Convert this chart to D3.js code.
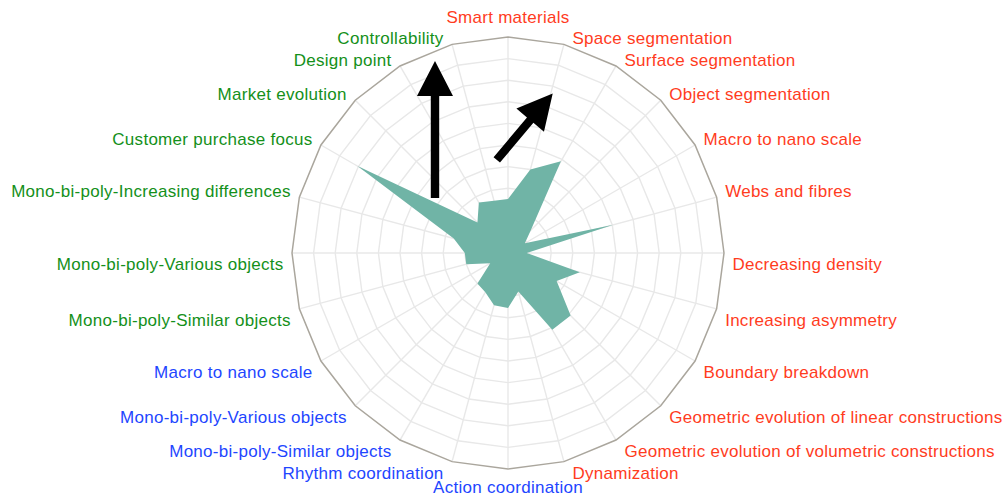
<!DOCTYPE html>
<html>
<head>
<meta charset="utf-8">
<script src="https://cdn.jsdelivr.net/npm/d3@7/dist/d3.min.js"></script>
<style>
  html, body { margin: 0; padding: 0; background: #ffffff; }
  svg { display: block; }
  text { font-family: "Liberation Sans", Arial, sans-serif; font-size: 17px; letter-spacing: 0.28px; }
</style>
</head>
<body>
<svg id="chart" width="1004" height="497"></svg>
<script>
// ---- data (clockwise from top) ----
const categories = [
  "Smart materials", "Space segmentation", "Surface segmentation", "Object segmentation",
  "Macro to nano scale", "Webs and fibres", "Decreasing density", "Increasing asymmetry",
  "Boundary breakdown", "Geometric evolution of linear constructions",
  "Geometric evolution of volumetric constructions", "Dynamization",
  "Action coordination", "Rhythm coordination", "Mono-bi-poly-Similar objects",
  "Mono-bi-poly-Various objects", "Macro to nano scale",
  "Mono-bi-poly-Similar objects", "Mono-bi-poly-Various objects",
  "Mono-bi-poly-Increasing differences", "Customer purchase focus", "Market evolution",
  "Design point", "Controllability"
];
const groups = [
  "space","space","space","space","space","space","space","space","space","space","space","space",
  "interaction","interaction","interaction","interaction","interaction",
  "market","market","market","market","market","market","market"
];
const values = [
  2.5, 4.0, 4.9, 1.5, 0.9, 5.05, 0.87, 3.44, 2.6, 4.1, 4.1, 1.85,
  2.55, 2.5, 2.1, 2.0, 0.95,
  2.0, 2.0, 2.6, 8.05, 2.0, 2.7, 2.5
];
const ringLevels = [1, 2, 3, 4, 5, 6, 7, 8, 9, 10];
const maxValue = 10;
// annotation arrows, in value units relative to the chart centre (x right, y up)
const arrowTails = [[-3.38, 2.55], [-0.52, 4.31]];
const arrowTips  = [[-3.38, 8.89], [2.07, 7.39]];

// ---- layout ----
const svg = d3.select("#chart");
const cx = 508, cy = 253, R = 216;
const groupColor = d3.scaleOrdinal()
  .domain(["space", "interaction", "market"])
  .range(["#ff3c1e", "#1e46ff", "#14901a"]);

const n = categories.length;
const angle = d3.scaleLinear().domain([0, n]).range([0, 2 * Math.PI]);
const r = d3.scaleLinear().domain([0, maxValue]).range([0, R]);

const g = svg.append("g").attr("transform", `translate(${cx},${cy})`);
const idx = d3.range(n);

// grid rings
const ringLine = v => d3.lineRadial()
  .angle(i => angle(i))
  .radius(() => r(v))
  .curve(d3.curveLinearClosed)(idx);

g.selectAll("path.ring")
  .data(ringLevels.filter(v => v < maxValue))
  .join("path")
  .attr("class", "ring")
  .attr("d", v => ringLine(v))
  .attr("fill", "none")
  .attr("stroke", "#e8e8e8")
  .attr("stroke-width", 1.4);

// spokes
g.selectAll("line.spoke")
  .data(idx)
  .join("line")
  .attr("class", "spoke")
  .attr("x1", 0).attr("y1", 0)
  .attr("x2", i => r(maxValue) * Math.sin(angle(i)))
  .attr("y2", i => -r(maxValue) * Math.cos(angle(i)))
  .attr("stroke", "#e8e8e8")
  .attr("stroke-width", 1.4);

// outer border
g.append("path")
  .attr("d", ringLine(maxValue))
  .attr("fill", "none")
  .attr("stroke", "#aaa69d")
  .attr("stroke-width", 1.5);

// data area
g.append("path")
  .datum(values)
  .attr("d", d3.lineRadial()
    .angle((d, i) => angle(i))
    .radius(d => r(d))
    .curve(d3.curveLinearClosed))
  .attr("fill", "#70b4a6")
  .attr("stroke", "none");

// labels
const gap = 8.5;
g.selectAll("text.lab")
  .data(idx)
  .join("text")
  .attr("class", "lab")
  .each(function(i) {
    const a = angle(i);
    const s = Math.sin(a), c = Math.cos(a);
    const vx = r(maxValue) * s, vy = -r(maxValue) * c;
    const t = d3.select(this);
    let x, y, anchor;
    if (Math.abs(s) < 1e-6) {
      anchor = "middle";
      x = vx;
      y = c > 0 ? vy - 14 : vy + 24;
    } else {
      anchor = s > 0 ? "start" : "end";
      x = vx + (s > 0 ? gap : -gap);
      y = c > 1e-6 ? vy : vy + 17;
    }
    t.attr("x", x).attr("y", y).attr("text-anchor", anchor)
      .attr("fill", groupColor(groups[i]))
      .text(categories[i]);
  });

// annotation arrows
function arrowPath(tail, tip) {
  const x0 = r(tail[0]), y0 = -r(tail[1]);
  const x1 = r(tip[0]), y1 = -r(tip[1]);
  const dx = x1 - x0, dy = y1 - y0, L = Math.hypot(dx, dy);
  const ux = dx / L, uy = dy / L, px = -uy, py = ux;
  const headL = 35, headW = 18, shaftW = 4.2;
  const bx = x1 - ux * headL, by = y1 - uy * headL;
  const pts = [
    [x0 + px * shaftW, y0 + py * shaftW],
    [bx + px * shaftW, by + py * shaftW],
    [bx + px * headW, by + py * headW],
    [x1, y1],
    [bx - px * headW, by - py * headW],
    [bx - px * shaftW, by - py * shaftW],
    [x0 - px * shaftW, y0 - py * shaftW]
  ];
  return "M" + pts.map(p => p.join(",")).join("L") + "Z";
}
g.selectAll("path.arrow")
  .data(d3.range(arrowTails.length))
  .join("path")
  .attr("class", "arrow")
  .attr("d", i => arrowPath(arrowTails[i], arrowTips[i]))
  .attr("fill", "#000");
</script>
</body>
</html>
